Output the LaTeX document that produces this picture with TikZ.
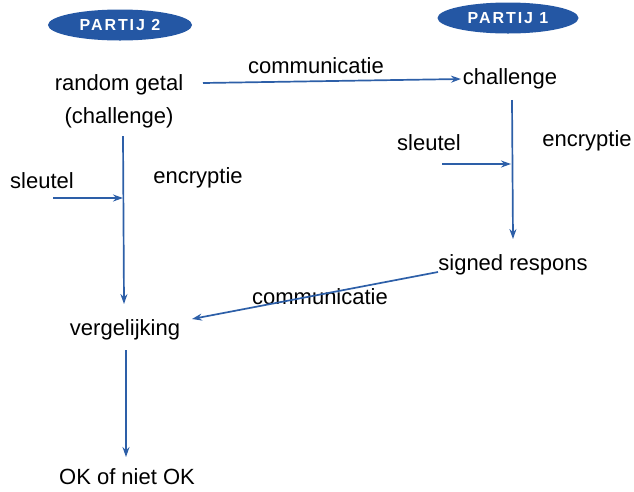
\documentclass[tikz,border=0pt]{standalone}
\usepackage{fontspec}
\setmainfont{Liberation Sans}
\newfontfamily\partfont[LetterSpace=12]{Liberation Sans}
\usetikzlibrary{arrows.meta,shapes.geometric}
\definecolor{lineblue}{HTML}{2D5FA8}
\definecolor{ovalblue}{HTML}{2457A4}
\begin{document}
\begin{tikzpicture}[x=1pt,y=-1pt,
  lbl/.style={inner sep=0pt,font=\fontsize{22}{27}\selectfont},
  oval/.style={ellipse,fill=ovalblue,draw=none,minimum width=#1,minimum height=31pt,inner sep=0pt,
    text=white,font=\partfont\bfseries\fontsize{16}{18}\selectfont},
  conn/.style={draw=lineblue,line width=1.7pt,-{Stealth[length=10pt,width=7pt]}}]
\useasboundingbox (0,0) rectangle (634,491);
\node[oval=144pt] (p2) at (120,25) {PARTIJ 2};
\node[oval=141pt] (p1) at (508,18) {PARTIJ 1};

\node[lbl,align=center] (rg) at (119,101) {random getal\\[6pt](challenge)};
\node[lbl] (comm1) at (316,66) {communicatie};
\node[lbl] (ch) at (510,79) {challenge};
\node[lbl] (sl1) at (429,143) {sleutel};
\node[lbl] (enc1) at (587,141) {encryptie};
\node[lbl] (sr) at (513,265) {signed respons};
\node[lbl] (comm2) at (320,297) {communicatie};
\node[lbl] (sl2) at (42,181) {sleutel};
\node[lbl] (enc2) at (198,178) {encryptie};
\node[lbl] (ver) at (125,330) {vergelijking};
\node[lbl] (ok) at (127,477) {OK of niet OK};

\coordinate (a1s) at (203,83);
\coordinate (a1e) at (461,79);
\coordinate (r1s) at (512,100);
\coordinate (r1e) at (513,239);
\coordinate (r1k) at (511,164);
\coordinate (s1s) at (442,164);
\coordinate (l1s) at (123,136);
\coordinate (l1e) at (124,304);
\coordinate (l1k) at (123,198);
\coordinate (s2s) at (53,198);
\coordinate (c2s) at (438,272);
\coordinate (c2e) at (192,319);
\coordinate (v1s) at (126,350);
\coordinate (v1e) at (126,457);

\draw[conn] (a1s) -- (a1e);
\draw[conn] (r1s) -- (r1e);
\draw[conn] (s1s) -- (r1k);
\draw[conn] (l1s) -- (l1e);
\draw[conn] (s2s) -- (l1k);
\draw[conn] (c2s) -- (c2e);
\draw[conn] (v1s) -- (v1e);
\end{tikzpicture}
\end{document}
